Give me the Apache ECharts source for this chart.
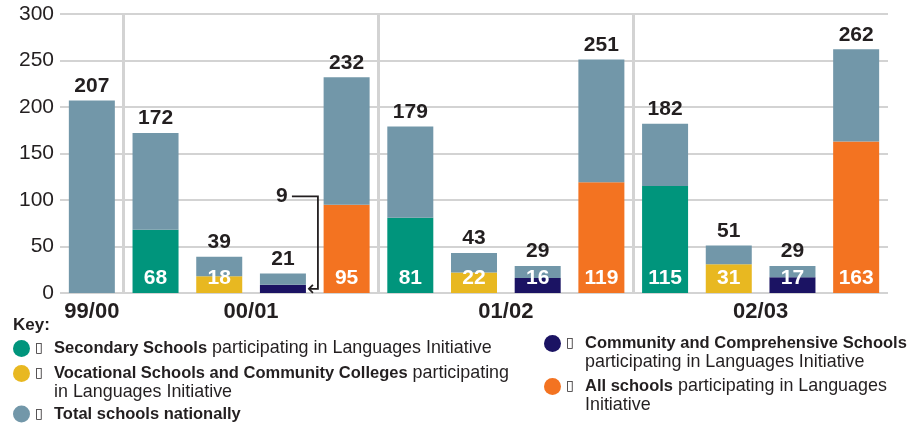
<!DOCTYPE html>
<html>
<head>
<meta charset="utf-8">
<script src="https://cdn.jsdelivr.net/npm/echarts@6/dist/echarts.min.js"></script>
<style>
  html, body { margin: 0; padding: 0; background: #fff; }
  #chart { width: 914px; height: 424px; }
</style>
</head>
<body>
<div id="chart"></div>
<script>
// one category per bar, 13 bars in four school-year groups
const categories = [
  '99/00 total',
  '00/01 secondary', '00/01 vocational', '00/01 community', '00/01 all',
  '01/02 secondary', '01/02 vocational', '01/02 community', '01/02 all',
  '02/03 secondary', '02/03 vocational', '02/03 community', '02/03 all'
]
const totals = [207, 172, 39, 21, 232, 179, 43, 29, 251, 182, 51, 29, 262]
const secondary = [null, 68, null, null, null, 81, null, null, null, 115, null, null, null]
const vocational = [null, null, 18, null, null, null, 22, null, null, null, 31, null, null]
const community = [null, null, null, 9, null, null, null, 16, null, null, null, 17, null]
const allSchools = [null, null, null, null, 95, null, null, null, 119, null, null, null, 163]

const groupLabels = ['99/00', '00/01', '01/02', '02/03']
const groupCenters = [0.5, 3, 7, 11]
const groupBreaks = [1, 5, 9]

const FONT = "'Liberation Sans', Arial, sans-serif"
const INK = '#231f20'
const GRID = '#d3d3d3'
const COLORS = {
  secondary: '#00957c',
  vocational: '#e8b821',
  community: '#1b1363',
  all: '#f37321',
  total: '#7297a9'
}

const parts = [secondary, vocational, community, allSchools]
const remainder = totals.map((t, i) => t - parts.reduce((s, arr) => s + (arr[i] || 0), 0))

const chart = echarts.init(document.getElementById('chart'))

const insideLabel = {
  show: true,
  position: 'insideBottom',
  distance: 4,
  color: '#fff',
  fontFamily: FONT,
  fontWeight: 'bold',
  fontSize: 21
}

function partSeries(name, values, color) {
  return {
    name,
    type: 'bar',
    stack: 'schools',
    barWidth: 46,
    data: values.map((v) => (v != null && v < 12 ? { value: v, label: { show: false } } : v)),
    itemStyle: { color },
    label: insideLabel
  }
}

const richLegend = {
  t: { width: 19, fontFamily: 'DejaVu Sans', fontSize: 14, color: INK },
  b: { fontWeight: 'bold', fontFamily: FONT, fontSize: 16.5, color: INK }
}
const legendText = {
  'Secondary Schools': '{t|▯}{b|Secondary Schools} participating in Languages Initiative',
  'Vocational Schools and Community Colleges':
    '\n{t|▯}{b|Vocational Schools and Community Colleges} participating\n{t| }in Languages Initiative',
  'Total schools nationally': '{t|▯}{b|Total schools nationally}',
  'Community and Comprehensive Schools':
    '\n{t|▯}{b|Community and Comprehensive Schools}\n{t| }participating in Languages Initiative',
  'All schools': '\n{t|▯}{b|All schools} participating in Languages\n{t| }Initiative'
}

function legendAt(name, left, top) {
  return {
    data: [name],
    left,
    top,
    padding: 0,
    icon: 'circle',
    itemWidth: 17,
    itemHeight: 17,
    selectedMode: false,
    formatter: (n) => legendText[n],
    textStyle: { fontFamily: FONT, fontSize: 17.9, color: INK, lineHeight: 19, rich: richLegend }
  }
}

chart.setOption({
  animation: false,
  title: {
    text: 'Key:',
    left: 13,
    top: 317,
    padding: 0,
    textStyle: { fontFamily: FONT, fontSize: 17, fontWeight: 'bold', color: INK }
  },
  legend: [
    legendAt('Secondary Schools', 13, 339),
    legendAt('Vocational Schools and Community Colleges', 13, 345),
    legendAt('Total schools nationally', 13, 404.5),
    legendAt('Community and Comprehensive Schools', 544, 315),
    legendAt('All schools', 544, 358)
  ],
  grid: { left: 60, right: 26, top: 14, bottom: 131 },
  xAxis: [
    {
      type: 'category',
      data: categories,
      axisLine: { show: false },
      axisTick: { show: false },
      axisLabel: { show: false },
      splitLine: { show: false }
    },
    {
      type: 'value',
      min: 0,
      max: categories.length,
      position: 'bottom',
      axisLine: { show: false },
      axisTick: { show: false },
      splitLine: { show: false },
      axisLabel: {
        customValues: groupCenters,
        formatter: (v) => groupLabels[groupCenters.indexOf(v)] || '',
        margin: 8,
        color: INK,
        fontFamily: FONT,
        fontWeight: 'bold',
        fontSize: 22
      }
    }
  ],
  yAxis: {
    type: 'value',
    min: 0,
    max: 300,
    interval: 50,
    axisLine: { show: false },
    axisTick: { show: false },
    axisLabel: { color: INK, fontFamily: FONT, fontSize: 21, margin: 6 },
    splitLine: { lineStyle: { color: GRID, width: 2 } }
  },
  series: [
    {
      // group separators between school years
      type: 'line',
      xAxisIndex: 1,
      data: [],
      silent: true,
      z: 0,
      markLine: {
        silent: true,
        symbol: 'none',
        label: { show: false },
        lineStyle: { color: GRID, width: 3, type: 'solid' },
        data: groupBreaks.map((b) => ({ xAxis: b }))
      }
    },
    partSeries('Secondary Schools', secondary, COLORS.secondary),
    partSeries('Vocational Schools and Community Colleges', vocational, COLORS.vocational),
    partSeries('Community and Comprehensive Schools', community, COLORS.community),
    partSeries('All schools', allSchools, COLORS.all),
    {
      name: 'Total schools nationally',
      type: 'bar',
      stack: 'schools',
      barWidth: 46,
      data: remainder,
      itemStyle: { color: COLORS.total },
      label: {
        show: true,
        position: 'top',
        distance: 4,
        color: INK,
        fontFamily: FONT,
        fontWeight: 'bold',
        fontSize: 21,
        formatter: (p) => totals[p.dataIndex]
      }
    }
  ]
})

// callout for the small community value that has no room inside its bar
const calloutIdx = community.findIndex((v) => v != null && v < 12)
if (calloutIdx >= 0) {
  const toPx = (v) => chart.convertToPixel({ xAxisIndex: 0, yAxisIndex: 0 }, [calloutIdx, v])
  const [cx, yArrow] = toPx(community[calloutIdx] / 2)
  const yText = toPx(104)[1]
  const xv = cx + 35
  const tip = cx + 26
  chart.setOption({
    graphic: [
      {
        type: 'text',
        x: cx - 1,
        y: yText,
        style: {
          text: String(community[calloutIdx]),
          align: 'center',
          verticalAlign: 'middle',
          fill: INK,
          font: 'bold 21px ' + FONT
        }
      },
      {
        type: 'polyline',
        shape: { points: [[cx + 9, yText], [xv, yText], [xv, yArrow], [tip, yArrow]] },
        style: { stroke: INK, lineWidth: 1.8, fill: null }
      },
      {
        type: 'polyline',
        shape: { points: [[tip + 4, yArrow - 4], [tip, yArrow], [tip + 4, yArrow + 4]] },
        style: { stroke: INK, lineWidth: 1.8, fill: null }
      }
    ]
  })
}
</script>
</body>
</html>
